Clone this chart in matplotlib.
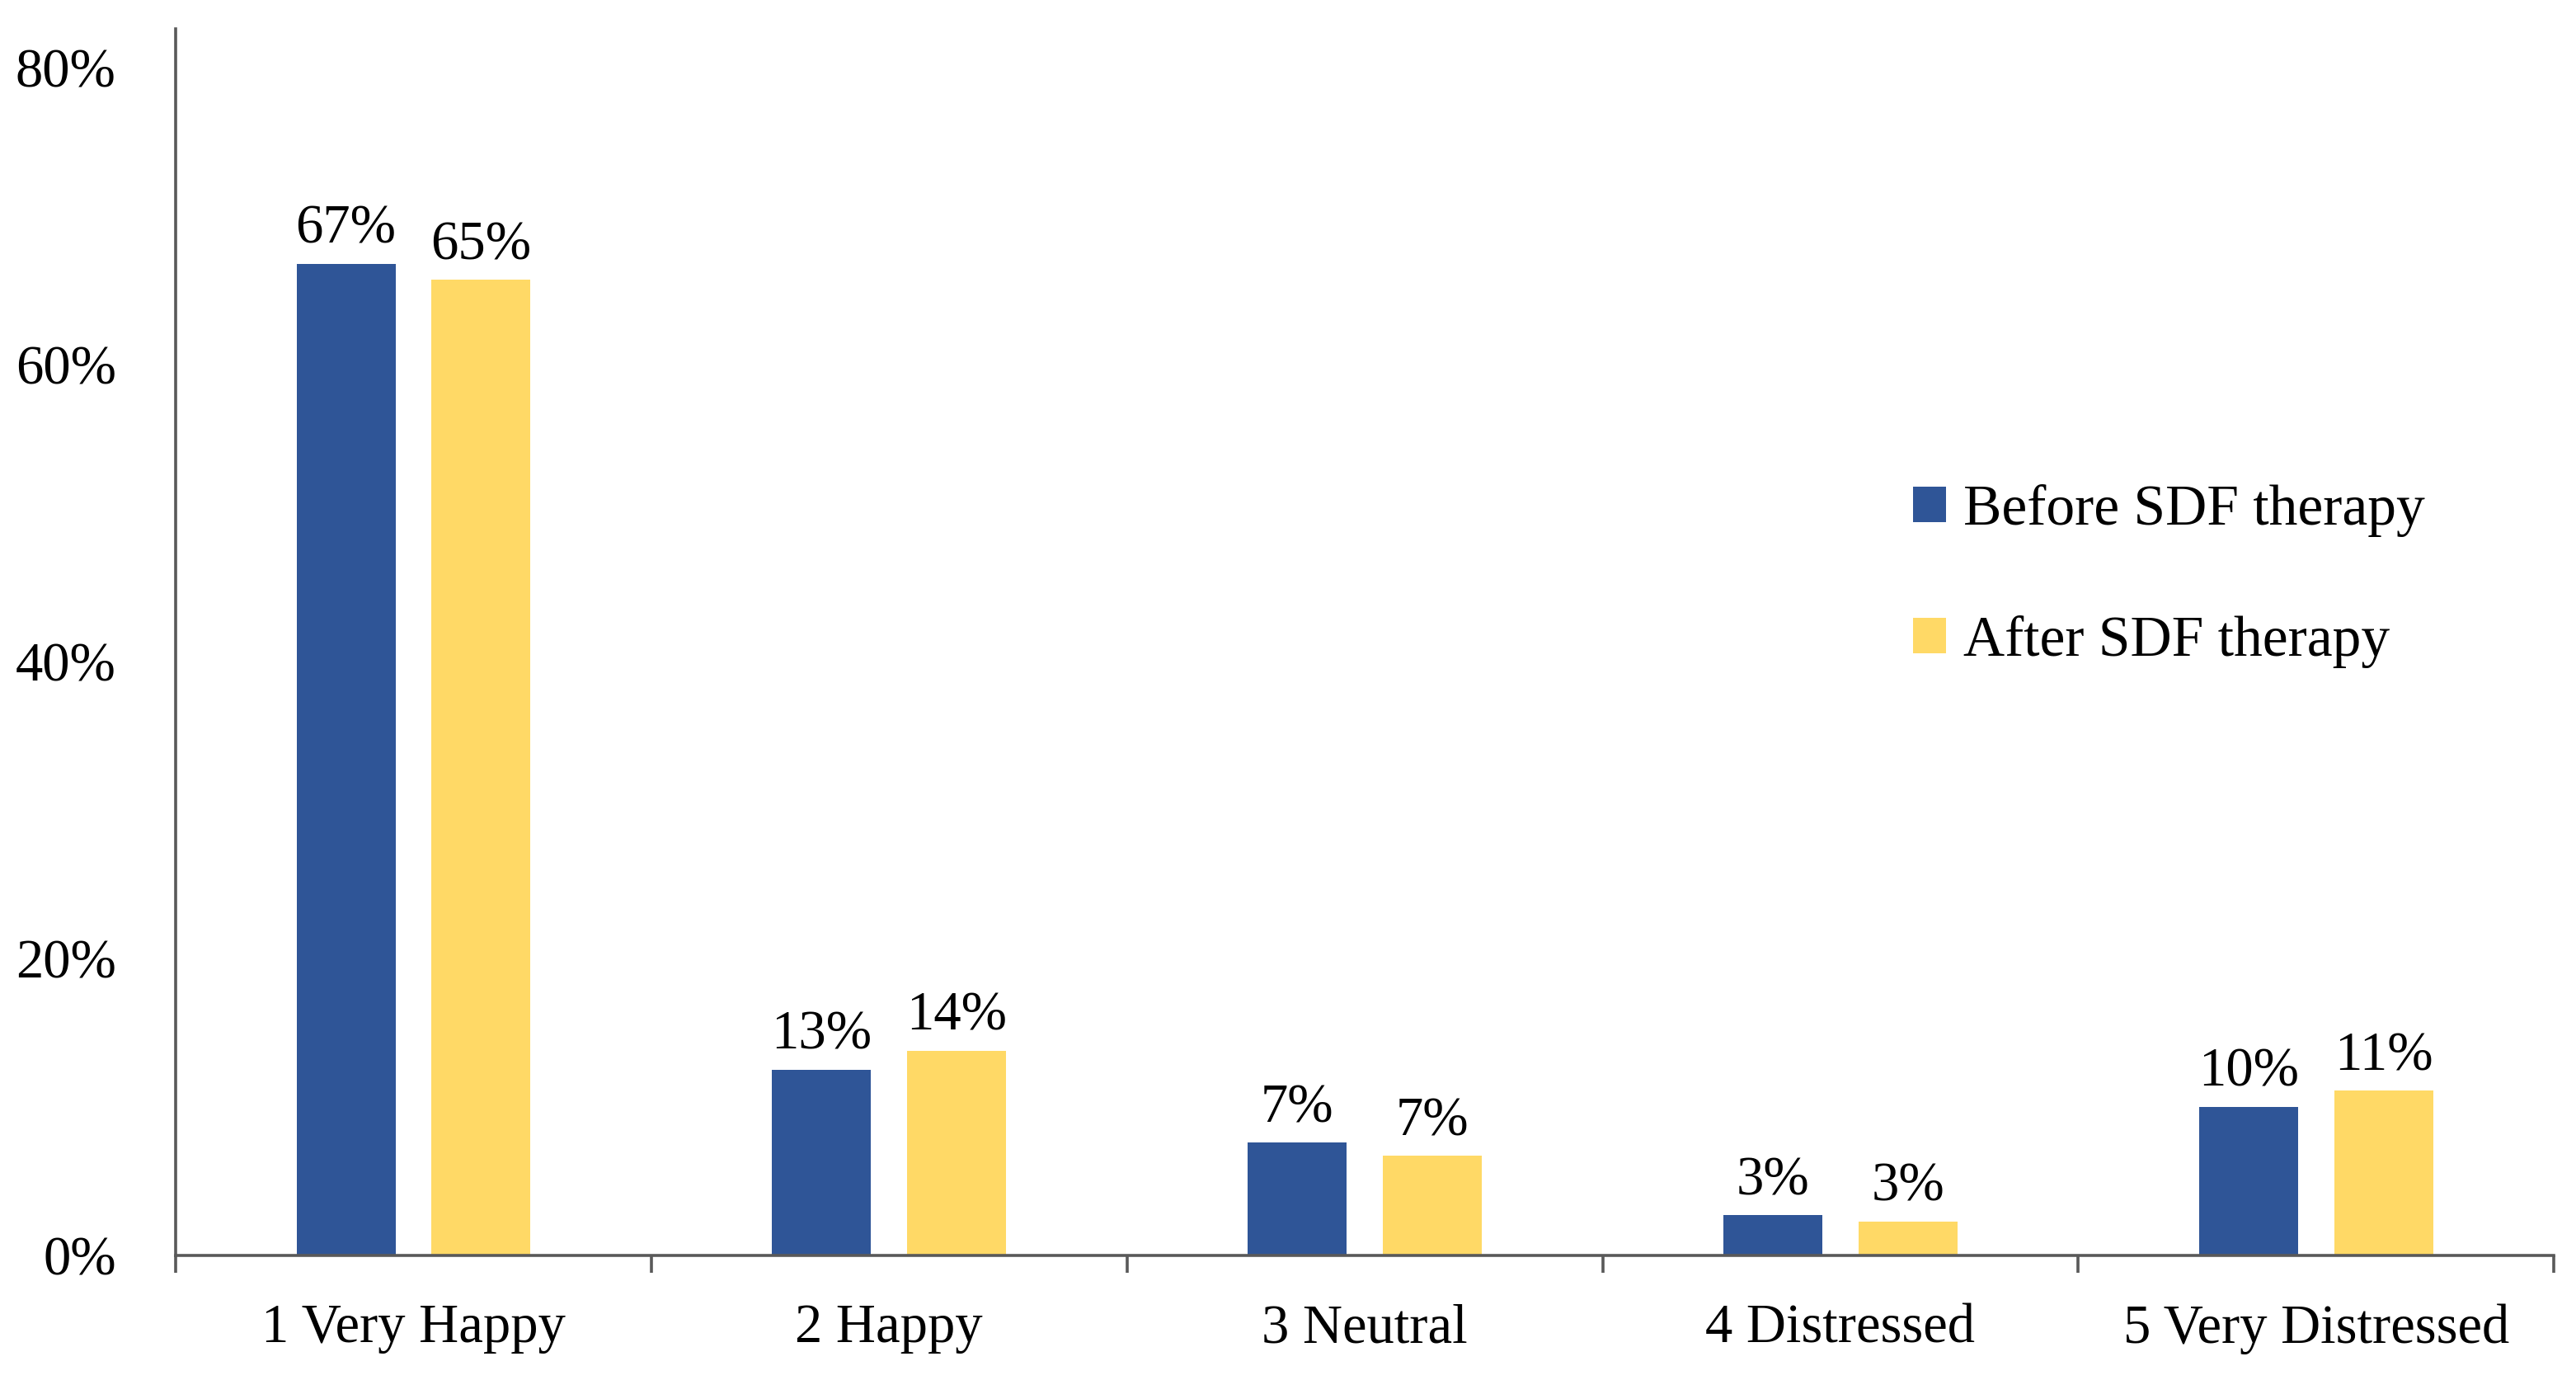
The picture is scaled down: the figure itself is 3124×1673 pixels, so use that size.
import numpy as np
import matplotlib
matplotlib.use("Agg")
import matplotlib.pyplot as plt

plt.rcParams['font.family'] = ['Liberation Serif', 'DejaVu Serif']

# data
categories = ['1 Very Happy', '2 Happy', '3 Neutral', '4 Distressed', '5 Very Distressed']
before = [66.8, 12.5, 7.6, 2.7, 10.0]   # bar heights (%)
after = [65.7, 13.8, 6.7, 2.3, 11.1]
before_labels = ['67%', '13%', '7%', '3%', '10%']
after_labels = ['65%', '14%', '7%', '3%', '11%']
yticks = [0, 20, 40, 60, 80]

blue = '#2F5597'
yellow = '#FFD966'
axis_col = '#595959'

fig = plt.figure(figsize=(15.62, 8.365), dpi=200)
ax = fig.add_axes([0.0682, 0.0903, 0.9232, 0.8887])

x = np.arange(len(categories))
w = 0.208; off = 0.142
b1 = ax.bar(x - off, before, w, color=blue, label='Before SDF therapy')
b2 = ax.bar(x + off, after, w, color=yellow, label='After SDF therapy')
ax.bar_label(b1, labels=before_labels, padding=4, fontsize=24)
ax.bar_label(b2, labels=after_labels, padding=4, fontsize=24)

ax.set_xlim(-0.5, len(categories) - 0.5)
ax.set_ylim(0, 82.6)
ax.set_yticks(yticks)
ax.set_yticklabels([f'{v}%' for v in yticks])
ax.set_xticks(x)
ax.set_xticklabels(categories)
ax.set_xticks(np.arange(len(categories) + 1) - 0.5, minor=True)

ax.tick_params(axis='y', length=0, pad=26, labelsize=24)
ax.tick_params(axis='x', which='major', length=0, pad=21, labelsize=24)
ax.tick_params(axis='x', which='minor', length=7.5, width=1.3, color=axis_col, direction='out')

for s in ['top', 'right']:
    ax.spines[s].set_visible(False)
for s in ['left', 'bottom']:
    ax.spines[s].set_color(axis_col)
    ax.spines[s].set_linewidth(1.3)

ax.legend(loc='center left', bbox_to_anchor=(0.7426, 0.5825), bbox_transform=fig.transFigure,
          frameon=False, fontsize=25, handlelength=0.576, handleheight=0.576,
          handletextpad=0.3, labelspacing=1.37, borderpad=0, borderaxespad=0)

fig.savefig('out.png', dpi=200)
